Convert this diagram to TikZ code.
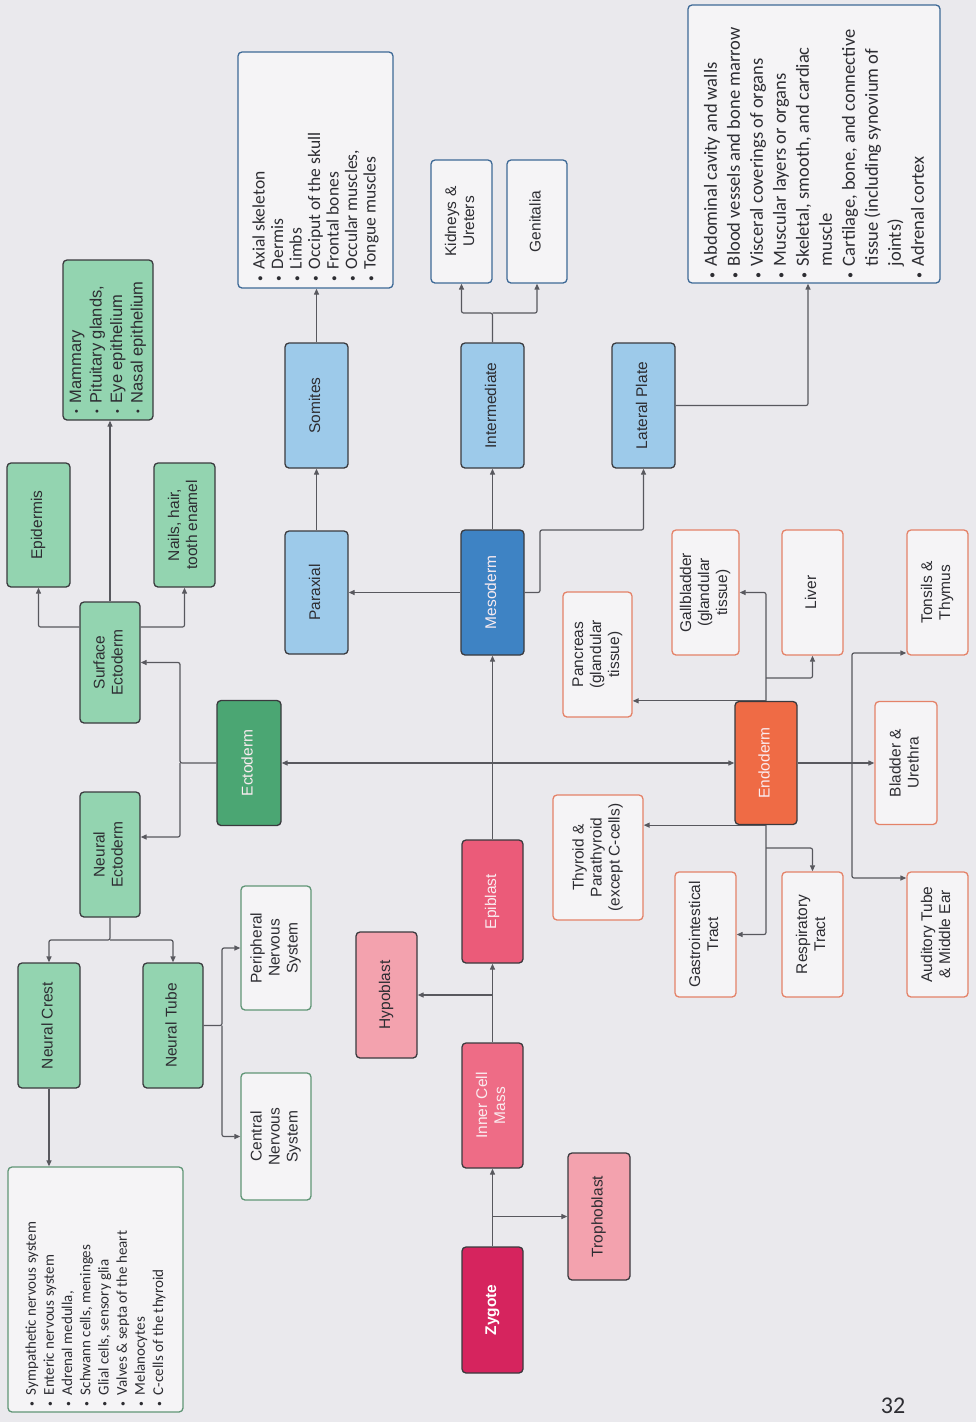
\documentclass[tikz,border=0pt]{standalone}
\usepackage{fontspec}
\setmainfont{Liberation Sans}
\newfontfamily\listfont{Carlito}
\usetikzlibrary{arrows.meta,calc}
\definecolor{bg}{RGB}{234,233,237}
\definecolor{ln}{RGB}{88,88,94}
\definecolor{bd}{RGB}{58,58,62}
\definecolor{zyg}{RGB}{214,36,94}
\definecolor{icm}{RGB}{238,108,134}
\definecolor{epi}{RGB}{235,91,121}
\definecolor{lpink}{RGB}{243,162,174}
\definecolor{dgreen}{RGB}{75,166,115}
\definecolor{lgreen}{RGB}{147,212,176}
\definecolor{dblue}{RGB}{62,131,196}
\definecolor{lblue}{RGB}{157,202,234}
\definecolor{orng}{RGB}{239,107,69}
\definecolor{oline}{RGB}{228,130,104}
\definecolor{bline}{RGB}{61,105,150}
\definecolor{gline}{RGB}{96,150,118}
\definecolor{wfill}{RGB}{245,244,246}
\definecolor{txt}{RGB}{45,45,50}
\definecolor{ltxt}{RGB}{250,236,240}
\newcommand\rtxt[1]{\rotatebox{90}{\begin{tabular}{@{}c@{}}#1\end{tabular}}}
\newcommand\rlist[5]{\rotatebox{90}{\parbox{#1}{#2\fontsize{#3}{#4}\selectfont\raggedright #5}}}
\newcommand\bul{\raisebox{0.12ex}{\scalebox{0.65}{\textbullet}}}
\newcommand\itm{\bul\hspace{6pt}}
\newcommand\cnt{\phantom{\bul}\hspace{6pt}}
\tikzset{
  bx/.style={draw=bd, line width=1.3pt, rounded corners=4pt, inner sep=0pt, text=txt},
  sz/.style 2 args={minimum width=#1pt, minimum height=#2pt},
  pinkbox/.style={bx, fill=lpink},
  greenbox/.style={bx, fill=lgreen},
  bluebox/.style={bx, fill=lblue},
  gwbox/.style={bx, draw=gline, fill=wfill},
  bwbox/.style={bx, draw=bline, fill=wfill},
  owbox/.style={bx, draw=oline, fill=wfill},
  arr/.style={draw=ln, line width=1.2pt, rounded corners=2pt, -{Triangle[length=6pt,width=5pt]}},
  arrboth/.style={draw=ln, line width=1.2pt, {Triangle[length=6pt,width=5pt]}-{Triangle[length=6pt,width=5pt]}}
}
\begin{document}
\begin{tikzpicture}[x=1pt, y=-1pt, font=\fontsize{15.5}{18}\selectfont]
\fill[bg] (0,0) rectangle (976,1422);
\useasboundingbox (0,0) rectangle (976,1422);

% zygote line
\node[bx, fill=zyg, text=white, sz={61}{126}] (Zyg) at (492.5,1310) {\rtxt{\textbf{Zygote}}};
\node[pinkbox, sz={62}{127}] (Tropho) at (599,1216.5) {\rtxt{Trophoblast}};
\node[bx, fill=icm, text=ltxt, sz={61}{125}] (ICM) at (492.5,1105.5) {\rtxt{Inner Cell\\Mass}};
\node[pinkbox, sz={61}{126}] (Hypo) at (386.5,995) {\rtxt{Hypoblast}};
\node[bx, fill=epi, text=ltxt, sz={61}{123}] (Epi) at (492.5,901.5) {\rtxt{Epiblast}};

% germ layers
\node[bx, fill=dgreen, text=ltxt, sz={64}{125}] (Ecto) at (249,763) {\rtxt{Ectoderm}};
\node[bx, fill=dblue, text=ltxt, sz={63}{125}] (Meso) at (492.5,592.5) {\rtxt{Mesoderm}};
\node[bx, fill=orng, text=ltxt, sz={62}{123}] (Endo) at (766,763) {\rtxt{Endoderm}};

% ectoderm
\node[greenbox, sz={60}{125}] (NeurEct) at (110,854.5) {\rtxt{Neural\\Ectoderm}};
\node[greenbox, sz={60}{121}] (Surf) at (110,662.5) {\rtxt{Surface\\Ectoderm}};
\node[greenbox, sz={63}{124}] (Epid) at (38.5,525) {\rtxt{Epidermis}};
\node[greenbox, sz={61}{124}] (Nails) at (184.5,525) {\rtxt{Nails, hair,\\tooth enamel}};
\node[greenbox, sz={90}{160}] (Mamm) at (108,340) {\rlist{146pt}{}{16.5}{20.5}{\itm Mammary\\\itm Pituitary glands,\\\itm Eye epithelium\\\itm Nasal epithelium}};
\node[greenbox, sz={62}{125}] (Crest) at (49,1025.5) {\rtxt{Neural Crest}};
\node[greenbox, sz={60}{125}] (Tube) at (173,1025.5) {\rtxt{Neural Tube}};
\node[gwbox, sz={70}{124}] (PNS) at (276,948) {\rtxt{Peripheral\\Nervous\\System}};
\node[gwbox, sz={70}{127}] (CNS) at (276,1136.5) {\rtxt{Central\\Nervous\\System}};
\node[gwbox, sz={175}{245}] (NCList) at (95.5,1289.5) {\rlist{233pt}{\listfont}{15}{18.2}{\itm Sympathetic nervous system\\\itm Enteric nervous system\\\itm Adrenal medulla,\\\itm Schwann cells, meninges\\\itm Glial cells, sensory glia\\\itm Valves \& septa of the heart\\\itm Melanocytes\\\itm C-cells of the thyroid}};

% mesoderm
\node[bluebox, sz={63}{123}] (Para) at (316.5,592.5) {\rtxt{Paraxial}};
\node[bluebox, sz={63}{125}] (Som) at (316.5,405.5) {\rtxt{Somites}};
\node[bluebox, sz={63}{125}] (Inter) at (492.5,405.5) {\rtxt{Intermediate}};
\node[bluebox, sz={63}{125}] (Lat) at (643.5,405.5) {\rtxt{Lateral Plate}};
\node[bwbox, sz={155}{236}] (SomList) at (315.5,170) {\rlist{222pt}{\listfont}{17.5}{18.5}{\itm Axial skeleton\\\itm Dermis\\\itm Limbs\\\itm Occiput of the skull\\\itm Frontal bones\\\itm Occular muscles,\\\itm Tongue muscles}};
\node[bwbox, sz={61}{123}] (Kid) at (461.5,221.5) {\rtxt{Kidneys \&\\Ureters}};
\node[bwbox, sz={60}{123}] (Gen) at (537,221.5) {\rtxt{Genitalia}};
\node[bwbox, sz={252}{278}] (LatList) at (814,144) {\rlist{268pt}{\listfont}{18.5}{23}{\itm Abdominal cavity and walls\\\itm Blood vessels and bone marrow\\\itm Visceral coverings of organs\\\itm Muscular layers or organs\\\itm Skeletal, smooth, and cardiac\\\cnt muscle\\\itm Cartilage, bone, and connective\\\cnt tissue (including synovium of\\\cnt joints)\\\itm Adrenal cortex}};

% endoderm
\node[owbox, sz={67}{125}] (Gall) at (705.5,592.5) {\rtxt{Gallbladder\\(glandular\\tissue)}};
\node[owbox, sz={61}{125}] (Liver) at (812.5,592.5) {\rtxt{Liver}};
\node[owbox, sz={61}{125}] (Tons) at (937.5,592.5) {\rtxt{Tonsils \&\\Thymus}};
\node[owbox, sz={69}{125}] (Panc) at (597.5,654.5) {\rtxt{Pancreas\\(glandular\\tissue)}};
\node[owbox, sz={90}{125}] (Thy) at (598,857.5) {\rtxt{Thyroid \&\\Parathyroid\\(except C-cells)}};
\node[owbox, sz={62}{123}] (Blad) at (906,763) {\rtxt{Bladder \&\\Urethra}};
\node[owbox, sz={61}{125}] (GI) at (705.5,934.5) {\rtxt{Gastrointestical\\Tract}};
\node[owbox, sz={61}{125}] (Resp) at (812.5,934.5) {\rtxt{Respiratory\\Tract}};
\node[owbox, sz={61}{125}] (Aud) at (937.5,934.5) {\rtxt{Auditory Tube\\\& Middle Ear}};

\node[font=\listfont\fontsize{24}{24}\selectfont, text=txt] (pg) at (893,1406) {32};

% connectors: early
\draw[arr] (Zyg) -- (ICM);
\draw[arr] (Zyg.north |- Tropho.west) -- (Tropho.west);
\draw[arr] (ICM) -- (Epi);
\draw[arr] (ICM.north |- Hypo.east) -- (Hypo.east);
\draw[arr] (Epi) -- (Meso);
\draw[arrboth] (Ecto) -- (Endo);

% ectoderm
\coordinate (ej) at (180,763);
\draw[arr] (Ecto.west) -- (ej) |- (Surf.east);
\draw[arr] (ej) |- (NeurEct.east |- 0,837);
\draw[arr] (Surf.north) -- (Surf.north |- Mamm.south);
\draw[arr] (Surf.west |- 0,627) -| (Epid.south);
\draw[arr] (Surf.east |- 0,627) -| (Nails.south);
\coordinate (nj) at (110,940);
\draw[arr] (NeurEct.south) -- (nj) -| (Crest.north);
\draw[arr] (nj) -| (Tube.north);
\coordinate (tj) at (222,1025.5);
\draw[arr] (Tube.east) -- (tj) |- (PNS.west);
\draw[arr] (tj) |- (CNS.west);
\draw[arr] (Crest.south) -- (Crest.south |- NCList.north);

% mesoderm
\draw[arr] (Meso) -- (Para);
\draw[arr] (Para) -- (Som);
\draw[arr] (Meso) -- (Inter);
\coordinate (lj) at (540,530);
\draw[arr] (Meso.east) -| (lj) -| (Lat.south);
\draw[arr] (Som.north) -- (Som.north |- SomList.south);
\coordinate (ij) at (492.5,313);
\draw[arr] (Inter.north) -- (ij) -| (Kid.south);
\draw[arr] (ij) -| (Gen.south);
\draw[arr] (Lat.east) -| ([xshift=-6pt]LatList.south);

% endoderm
\draw[arr] (Endo.north) |- (Gall.east);
\draw[arr] (Endo.north) -- (Panc.east |- Endo.north);
\draw[arr] (Endo.north |- 0,678) -| (Liver.south);
\draw[arr] (Endo.south) |- (GI.east);
\draw[arr] (Endo.south) -- (Thy.east |- Endo.south);
\draw[arr] (Endo.south |- 0,848) -| (Resp.north);
\draw[arr] (Endo) -- (Blad);
\coordinate (rj) at (852,763);
\draw[arr] (rj) |- (Tons.west |- 0,653);
\draw[arr] (rj) |- (Aud.west |- 0,878);
\end{tikzpicture}
\end{document}
